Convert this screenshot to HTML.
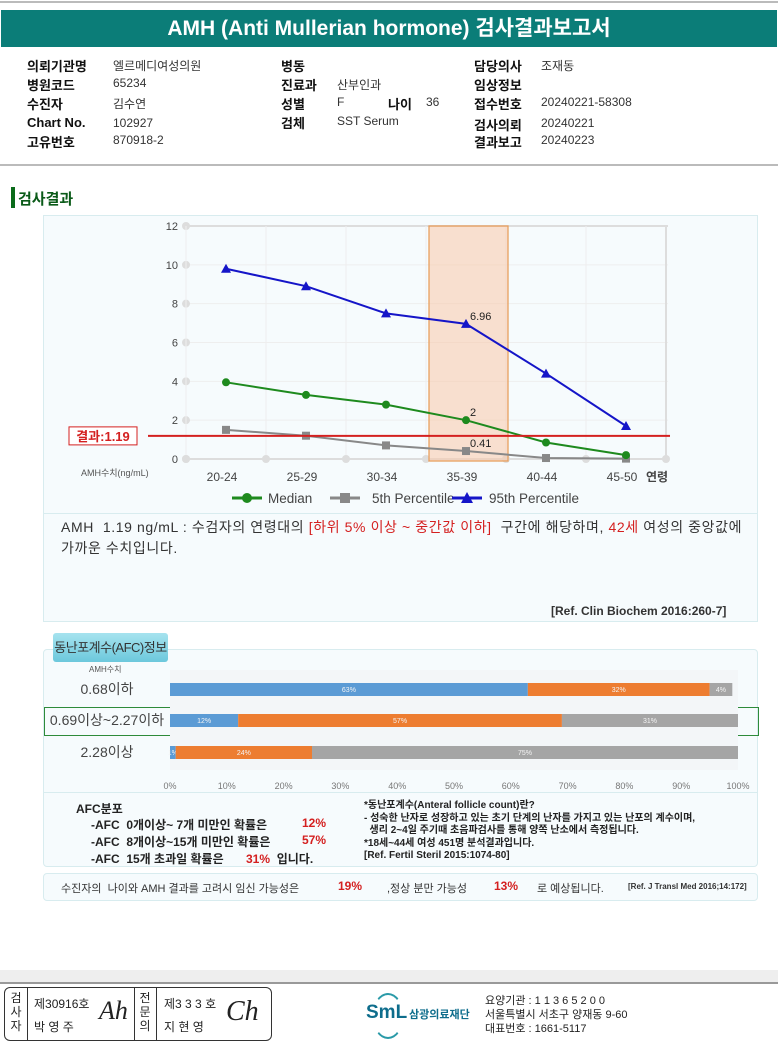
<!DOCTYPE html>
<html><head><meta charset="utf-8">
<style>
body{margin:0;width:778px;height:1050px;background:#fff;font-family:"Liberation Sans","Noto Sans CJK KR",sans-serif;position:relative;overflow:hidden;color:#222}
.a{position:absolute;white-space:nowrap}
.lb{font-weight:bold;font-size:13px;color:#111}
.vl{font-size:12px;color:#333}
</style></head><body>
<div class="a" style="left:0;top:1px;width:778px;height:2px;background:#bbb"></div>
<div class="a" style="left:1px;top:10px;width:776px;height:37px;background:#0b7d78;color:#fff;font-size:21px;font-weight:bold;text-align:center;line-height:37px">AMH (Anti Mullerian hormone) 검사결과보고서</div>

<div>
<div class="a lb" style="left:27px;top:56px">의뢰기관명</div><div class="a vl" style="left:113px;top:57px">엘르메디여성의원</div>
<div class="a lb" style="left:27px;top:75px">병원코드</div><div class="a vl" style="left:113px;top:76px">65234</div>
<div class="a lb" style="left:27px;top:94px">수진자</div><div class="a vl" style="left:113px;top:95px">김수연</div>
<div class="a lb" style="left:27px;top:115px">Chart No.</div><div class="a vl" style="left:113px;top:116px">102927</div>
<div class="a lb" style="left:27px;top:132px">고유번호</div><div class="a vl" style="left:113px;top:133px">870918-2</div>
<div class="a lb" style="left:281px;top:56px">병동</div>
<div class="a lb" style="left:281px;top:75px">진료과</div><div class="a vl" style="left:337px;top:76px">산부인과</div>
<div class="a lb" style="left:281px;top:94px">성별</div><div class="a vl" style="left:337px;top:95px">F</div>
<div class="a lb" style="left:388px;top:94px">나이</div><div class="a vl" style="left:426px;top:95px">36</div>
<div class="a lb" style="left:281px;top:113px">검체</div><div class="a vl" style="left:337px;top:114px">SST Serum</div>
<div class="a lb" style="left:474px;top:56px">담당의사</div><div class="a vl" style="left:541px;top:57px">조재동</div>
<div class="a lb" style="left:474px;top:75px">임상정보</div>
<div class="a lb" style="left:474px;top:94px">접수번호</div><div class="a vl" style="left:541px;top:95px">20240221-58308</div>
<div class="a lb" style="left:474px;top:115px">검사의뢰</div><div class="a vl" style="left:541px;top:116px">20240221</div>
<div class="a lb" style="left:474px;top:132px">결과보고</div><div class="a vl" style="left:541px;top:133px">20240223</div>
</div>
<div class="a" style="left:0;top:164px;width:778px;height:2px;background:#bbb"></div>
<div class="a" style="left:11px;top:187px;width:4px;height:21px;background:#0a6b1a"></div>
<div class="a" style="left:18px;top:188px;font-size:15px;font-weight:bold;color:#0a5a18">검사결과</div>

<div class="a" style="left:43px;top:215px;width:713px;height:405px;background:#f6fbfd;border:1px solid #d8ecef"></div>
<div class="a" style="left:44px;top:513px;width:713px;height:1px;background:#d8ecef"></div>

<svg class="a" style="left:0;top:0" width="778" height="520" font-family="Liberation Sans, Noto Sans CJK KR, sans-serif">
<g id="g"></g>
</svg>

<div class="a" style="left:61px;top:517px;font-size:14px;letter-spacing:0.6px;line-height:21px;color:#333">AMH&nbsp; 1.19 ng/mL : 수검자의 연령대의 <span style="color:#d42020">[하위 5% 이상 ~ 중간값 이하]</span>&nbsp; 구간에 해당하며, <span style="color:#d42020">42세</span> 여성의 중앙값에<br>가까운 수치입니다.</div>
<div class="a" style="left:551px;top:604px;font-size:12px;font-weight:bold;color:#333">[Ref. Clin Biochem 2016:260-7]</div>

<div class="a" style="left:43px;top:649px;width:713px;height:216px;background:#f6fbfd;border:1px solid #d8ecef;border-radius:4px"></div>
<div class="a" style="left:53px;top:633px;width:115px;height:29px;background:linear-gradient(#a6e3ef,#6cc8dc);border-radius:3px;font-size:13px;line-height:29px;text-align:center;color:#333;letter-spacing:-0.5px">동난포계수(AFC)정보</div>
<div class="a" style="left:44px;top:792px;width:713px;height:1px;background:#d8ecef"></div>
<div class="a" style="left:44px;top:707px;width:713px;height:27px;border:1px solid #2e8b3a"></div>

<svg class="a" style="left:0;top:0" width="778" height="800" font-family="Liberation Sans, Noto Sans CJK KR, sans-serif">
<g id="b"></g>
</svg>

<div>
<div class="a" style="left:76px;top:800px;font-size:12px;font-weight:bold">AFC분포</div>
<div class="a" style="left:91px;top:816px;font-size:12px;font-weight:bold">-AFC&nbsp; 0개이상~ 7개 미만인 확률은</div><div class="a" style="left:302px;top:816px;font-size:12px;font-weight:bold;color:#d42020">12%</div>
<div class="a" style="left:91px;top:833px;font-size:12px;font-weight:bold">-AFC&nbsp; 8개이상~15개 미만인 확률은</div><div class="a" style="left:302px;top:833px;font-size:12px;font-weight:bold;color:#d42020">57%</div>
<div class="a" style="left:91px;top:850px;font-size:12px;font-weight:bold">-AFC&nbsp; 15개 초과일 확률은</div><div class="a" style="left:246px;top:850px;font-size:12px;font-weight:bold"><span style="color:#d42020">31%</span>&nbsp; 입니다.</div>
<div class="a" style="left:364px;top:800px;font-size:10px;font-weight:bold;line-height:12.5px">*동난포계수(Anteral follicle count)란?<br>- 성숙한 난자로 성장하고 있는 초기 단계의 난자를 가지고 있는 난포의 계수이며,<br>&nbsp;&nbsp;생리 2~4일 주기때 초음파검사를 통해 양쪽 난소에서 측정됩니다.<br>*18세~44세 여성 451명 분석결과입니다.<br>[Ref. Fertil Steril 2015:1074-80]</div>
</div>

<div class="a" style="left:43px;top:873px;width:713px;height:26px;background:#f6fbfd;border:1px solid #d8ecef;border-radius:4px"></div>
<div class="a" style="left:61px;top:880px;font-size:11px;color:#333">수진자의&nbsp; 나이와 AMH 결과를 고려시 임신 가능성은</div>
<div class="a" style="left:338px;top:879px;font-size:12px;font-weight:bold;color:#d42020">19%</div>
<div class="a" style="left:387px;top:880px;font-size:11px;color:#333">,정상 분만 가능성</div>
<div class="a" style="left:494px;top:879px;font-size:12px;font-weight:bold;color:#d42020">13%</div>
<div class="a" style="left:537px;top:880px;font-size:11px;color:#333">로 예상됩니다.</div>
<div class="a" style="left:628px;top:882px;font-size:8px;font-weight:bold;color:#333">[Ref. J Transl Med 2016;14:172]</div>

<div class="a" style="left:0;top:970px;width:778px;height:12px;background:#eee"></div>
<div class="a" style="left:0;top:982px;width:778px;height:2px;background:#999"></div>
<div class="a" style="left:4px;top:987px;width:266px;height:52px;border:1px solid #333;border-radius:6px"></div>
<div class="a" style="left:27px;top:988px;width:1px;height:52px;background:#333"></div>
<div class="a" style="left:134px;top:988px;width:1px;height:52px;background:#333"></div>
<div class="a" style="left:156px;top:988px;width:1px;height:52px;background:#333"></div>
<div class="a" style="left:9px;top:991px;font-size:12px;line-height:14px;width:14px;text-align:center">검<br>사<br>자</div>
<div class="a" style="left:34px;top:993px;font-size:12px;line-height:23px">제30916호<br>박 영 주</div>
<div class="a" style="left:99px;top:996px;font-size:26px;font-style:italic;font-family:'Liberation Serif',serif">Ah</div>
<div class="a" style="left:138px;top:991px;font-size:12px;line-height:14px;width:14px;text-align:center">전<br>문<br>의</div>
<div class="a" style="left:164px;top:993px;font-size:12px;line-height:23px">제3 3 3 호<br>지 현 영</div>
<div class="a" style="left:226px;top:996px;font-size:28px;font-style:italic;font-family:'Liberation Serif',serif">Ch</div>
<div class="a" style="left:366px;top:1002px;font-size:19px;font-weight:bold;color:#0e6d8c">SmL</div>
<div class="a" style="left:372px;top:993px;width:28px;height:42px;border:2px solid #2a9aa8;border-radius:50%;border-left-color:transparent;border-right-color:transparent"></div>
<div class="a" style="left:409px;top:1006px;font-size:11px;font-weight:bold;color:#0e6d8c">삼광의료재단</div>
<div class="a" style="left:485px;top:994px;font-size:11px;line-height:14px">요양기관 : 1 1 3 6 5 2 0 0<br>서울특별시 서초구 양재동 9-60<br>대표번호 : 1661-5117</div>

<script>
const categories=["20-24","25-29","30-34","35-39","40-44","45-50"];
const medianValues=[3.95,3.3,2.8,2,0.85,0.2];
const p5Values=[1.5,1.2,0.7,0.41,0.05,0.02];
const p95Values=[9.8,8.9,7.5,6.96,4.4,1.7];
const yTicks=[0,2,4,6,8,10,12];
const resultValue=1.19;
const highlightIndex=3;
const afcRows=["0.68이하","0.69이상~2.27이하","2.28이상"];
const afcLow=[63,12,1];
const afcMid=[32,57,24];
const afcHigh=[4,31,75];
const afcTicks=[0,10,20,30,40,50,60,70,80,90,100];

const NS="http://www.w3.org/2000/svg";
function mk(p,t,a){const e=document.createElementNS(NS,t);for(const k in a)e.setAttribute(k,a[k]);p.appendChild(e);return e;}
const g=document.getElementById('g');
const x0=186,x1=666,yb=459,yt=226;
const bw=(x1-x0)/categories.length;
const X=i=>x0+bw*(i+0.5);
const Y=v=>yb-(v/12)*(yb-yt);
yTicks.forEach(t=>{const l=mk(g,'line',{x1:x0,x2:x1+2,y1:Y(t),y2:Y(t),stroke:t==12?'#ddd':'#eee','stroke-width':t==12?2:1});

const tx=mk(g,'text',{x:x0-8,y:Y(t)+4,'text-anchor':'end','font-size':11,fill:'#444'});tx.textContent=t;

mk(g,'circle',{cx:x0,cy:Y(t),r:4,fill:'#ddd'});});
for(let i=0;i<=categories.length;i++){mk(g,'line',{x1:x0+bw*i,x2:x0+bw*i,y1:yt,y2:yb,stroke:i==categories.length?'#ddd':'#eee','stroke-width':i==categories.length?2:1});
mk(g,'circle',{cx:x0+bw*i,cy:yb,r:4,fill:'#ddd'});}
mk(g,'line',{x1:x0,x2:x1,y1:yb,y2:yb,stroke:'#ddd','stroke-width':2});
const hb=mk(g,'rect',{x:x0+bw*highlightIndex+3,y:yt,width:bw-1,height:yb-yt+2,fill:'rgba(250,200,170,0.55)',stroke:'#e8a060','stroke-width':1.3});

categories.forEach((c,i)=>{const t=mk(g,'text',{x:X(i)-4,y:481,'text-anchor':'middle','font-size':12,fill:'#444'});t.textContent=c;
});
let t=mk(g,'text',{x:646,y:481,'font-size':12,'font-weight':'bold',fill:'#444'});t.textContent='연령';

t=mk(g,'text',{x:81,y:476,'font-size':9,fill:'#555'});t.textContent='AMH수치(ng/mL)';

function series(vals,col,shape,name){const pts=vals.map((v,i)=>X(i)+','+Y(v)).join(' ');
const pl=mk(g,'polyline',{points:pts,fill:'none',stroke:col,'stroke-width':2});

vals.forEach((v,i)=>{let m;const cx=X(i),cy=Y(v);
if(shape=='c')m=mk(g,'circle',{cx:cx,cy:cy,r:4,fill:col});
else if(shape=='s')m=mk(g,'rect',{x:cx-4,y:cy-4,width:8,height:8,fill:col});
else m=mk(g,'polygon',{points:`${cx},${cy-5} ${cx+5},${cy+4} ${cx-5},${cy+4}`,fill:col});
});}
series(p5Values,'#888','s','p5');
series(medianValues,'#1e8a1e','c','median');
series(p95Values,'#1515c8','t','p95');
[[p95Values,'p95'],[medianValues,'median'],[p5Values,'p5']].forEach(([a,n])=>{const l=mk(g,'text',{x:X(highlightIndex)+4,y:Y(a[highlightIndex])-4,'font-size':11,fill:'#222'});l.textContent=a[highlightIndex];
});
const rl=mk(g,'line',{x1:148,x2:670,y1:Y(resultValue),y2:Y(resultValue),stroke:'#d42020','stroke-width':2});

const rb=mk(g,'rect',{x:69,y:Y(resultValue)-9,width:68,height:18,fill:'#fff',stroke:'#d42020'});

t=mk(g,'text',{x:103,y:Y(resultValue)+5,'text-anchor':'middle','font-size':13,'font-weight':'bold',fill:'#d42020'});t.textContent='결과:'+resultValue;

const leg=[['Median','#1e8a1e','c',232,268],['5th Percentile','#888','s',330,372],['95th Percentile','#1515c8','t',452,489]];
leg.forEach(([n,c,s,x,tx0])=>{mk(g,'line',{x1:x,x2:x+30,y1:498,y2:498,stroke:c,'stroke-width':3});
if(s=='c')mk(g,'circle',{cx:x+15,cy:498,r:5,fill:c});else if(s=='s')mk(g,'rect',{x:x+10,y:493,width:10,height:10,fill:c});else mk(g,'polygon',{points:`${x+15},${492} ${x+21},${503} ${x+9},${503}`,fill:c});
const tx=mk(g,'text',{x:tx0,y:503,'font-size':13.5,fill:'#444'});tx.textContent=n;
});

const b=document.getElementById('b');
const bx0=170,bx1=738,rowsY=[689,720,752];
const BX=v=>bx0+(v/100)*(bx1-bx0);
mk(b,'rect',{x:bx0,y:670,width:bx1-bx0,height:100,fill:'#f3f6f8'});
t=mk(b,'text',{x:89,y:672,'font-size':8,fill:'#555'});t.textContent='AMH수치';
afcRows.forEach((r,i)=>{const cy=rowsY[i];
const l=mk(b,'text',{x:107,y:cy+5,'text-anchor':'middle','font-size':14,fill:'#444'});l.textContent=r;

let acc=0;[[afcLow[i],'#5b9bd5'],[afcMid[i],'#ed7d31'],[afcHigh[i],'#a5a5a5']].forEach(([v,c])=>{
const w=BX(Math.min(acc+v,100))-BX(acc);
const rc=mk(b,'rect',{x:BX(acc),y:cy-6,width:w,height:13,fill:c});

const tx=mk(b,'text',{x:BX(acc)+w/2,y:cy+3,'text-anchor':'middle','font-size':7,fill:'#f4f4f4'});tx.textContent=v+'%';
acc+=v;});});
afcTicks.forEach(v=>{const tx=mk(b,'text',{x:BX(v),y:789,'text-anchor':'middle','font-size':9,fill:'#777'});tx.textContent=v+'%';
});
</script>
</body></html>
